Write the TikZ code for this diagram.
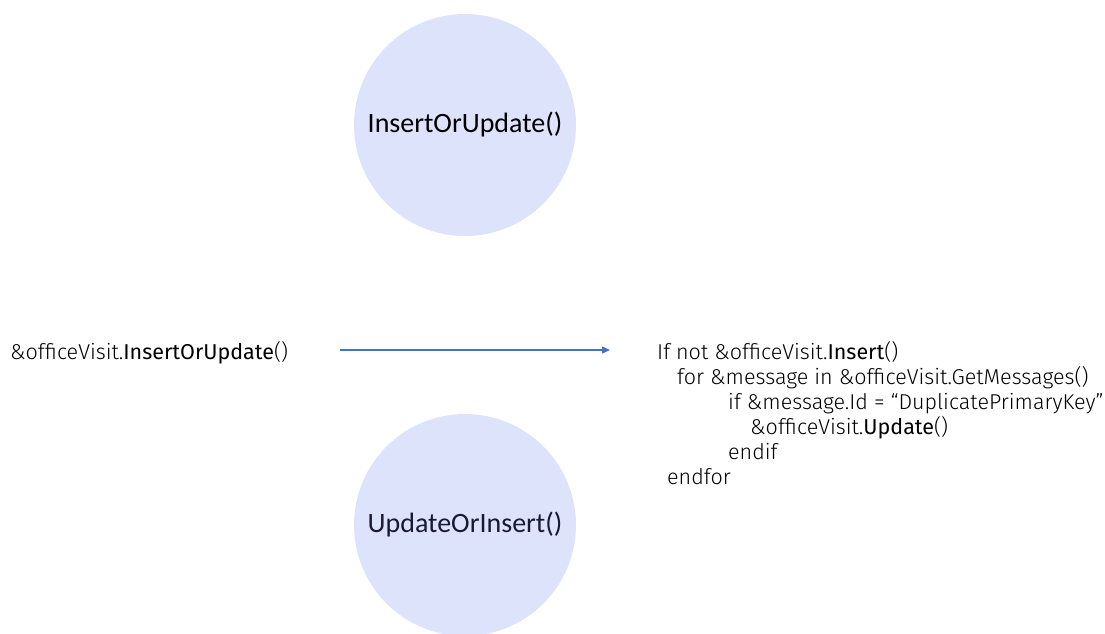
\documentclass[tikz,border=0pt]{standalone}
\usepackage{fontspec}
\setmainfont{Fira Sans Light}[BoldFont={Fira Sans}]
\newfontfamily\circfont{Carlito}
\usetikzlibrary{arrows.meta}
\definecolor{circfill}{RGB}{222,227,252}
\definecolor{arrowblue}{RGB}{68,114,196}
\definecolor{navy}{RGB}{24,26,50}
\tikzset{
  bubble/.style={circle, fill=circfill, minimum size=222pt, inner sep=0pt,
    font=\circfont\fontsize{28}{32}\selectfont},
  codeline/.style={anchor=base west, inner sep=0pt, font=\fontsize{21.5}{25}\selectfont},
  flow/.style={draw=arrowblue, line width=1.3pt, -{Triangle[length=8pt,width=7pt]}}
}
\begin{document}
\begin{tikzpicture}[x=1pt,y=-1pt]
\useasboundingbox (0,0) rectangle (1105,633);
\node[bubble] (top) at (465,125) {InsertOrUpdate()};
\node[bubble, text=navy] (bottom) at (465,525) {UpdateOrInsert()};
\node[codeline] (call) at (10,359) {\&officeVisit.\textbf{InsertOrUpdate}()};
\coordinate (a1) at (340,350);
\coordinate (a2) at (610,350);
\draw[flow] (a1) -- (a2);
\node[codeline] (c1) at (657,359) {If not \&officeVisit.\textbf{Insert}()};
\node[codeline] (c2) at (677,384) {for \&message in \&officeVisit.GetMessages()};
\node[codeline] (c3) at (728,409) {if \&message.Id = “DuplicatePrimaryKey”};
\node[codeline] (c4) at (750,434) {\&officeVisit.\textbf{Update}()};
\node[codeline] (c5) at (728,459) {endif};
\node[codeline] (c6) at (667,484) {endfor};
\end{tikzpicture}
\end{document}
